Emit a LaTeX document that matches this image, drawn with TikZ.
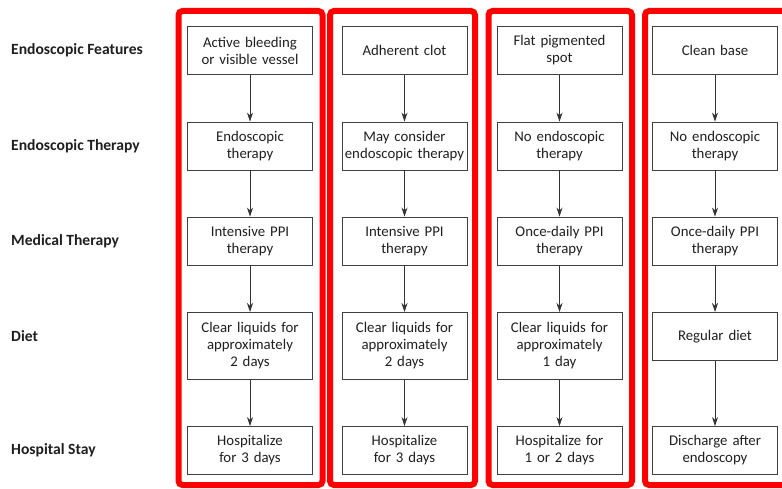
\documentclass[tikz,border=0pt]{standalone}
\usepackage{fontspec}
\setmainfont{Carlito}
\usetikzlibrary{arrows.meta}

\tikzset{
  stepbox/.style={draw=black!75, line width=0.9pt, text width=121pt, align=center,
    minimum width=125pt, minimum height=48pt, inner sep=0pt,
    font=\fontsize{14.8}{17}\selectfont, text=black!88},
  tallbox/.style={stepbox, minimum height=67pt},
  rowlabel/.style={anchor=west, inner sep=0pt, font=\fontsize{15.6}{18}\selectfont\bfseries, text=black!88},
  colframe/.style={draw=red, line width=6pt, rounded corners=4pt},
  flow/.style={-{Stealth[length=9pt,width=6pt]}, line width=0.8pt, draw=black!80}
}

\begin{document}
\begin{tikzpicture}[x=1pt, y=-1pt]
  \useasboundingbox (0,0) rectangle (782,489);

  % red frames round the four columns
  \draw [colframe] (178.5,11) rectangle (322.5,485);
  \draw [colframe] (330,11) rectangle (475,485);
  \draw [colframe] (488.5,11) rectangle (632,485);
  \draw [colframe] (645,11) rectangle (795,485);

  % row labels
  \node [rowlabel] (lfeat) at (11,50) {Endoscopic Features};
  \node [rowlabel] (lendo) at (11,146) {Endoscopic Therapy};
  \node [rowlabel] (lmed) at (11,241) {Medical Therapy};
  \node [rowlabel] (ldiet) at (11,336) {Diet};
  \node [rowlabel] (lstay) at (11,450) {Hospital Stay};

  % column 1
  \node [stepbox] (feat1) at (250,50.5) {Active bleeding\\or visible vessel};
  \node [stepbox] (endo1) at (250,146) {Endoscopic\\therapy};
  \node [stepbox] (med1) at (250,241) {Intensive PPI\\therapy};
  \node [tallbox, anchor=north] (diet1) at (250,312) {Clear liquids for\\approximately\\2 days};
  \node [stepbox] (stay1) at (250,450.5) {Hospitalize\\for 3 days};

  % column 2
  \node [stepbox] (feat2) at (404.5,50.5) {Adherent clot};
  \node [stepbox] (endo2) at (404.5,146) {May consider\\endoscopic therapy};
  \node [stepbox] (med2) at (404.5,241) {Intensive PPI\\therapy};
  \node [tallbox, anchor=north] (diet2) at (404.5,312) {Clear liquids for\\approximately\\2 days};
  \node [stepbox] (stay2) at (404.5,450.5) {Hospitalize\\for 3 days};

  % column 3
  \node [stepbox] (feat3) at (559.5,50.5) {Flat pigmented\\spot};
  \node [stepbox] (endo3) at (559.5,146) {No endoscopic\\therapy};
  \node [stepbox] (med3) at (559.5,241) {Once-daily PPI\\therapy};
  \node [tallbox, anchor=north] (diet3) at (559.5,312) {Clear liquids for\\approximately\\1 day};
  \node [stepbox] (stay3) at (559.5,450.5) {Hospitalize for\\1 or 2 days};

  % column 4
  \node [stepbox] (feat4) at (715,50.5) {Clean base};
  \node [stepbox] (endo4) at (715,146) {No endoscopic\\therapy};
  \node [stepbox] (med4) at (715,241) {Once-daily PPI\\therapy};
  \node [stepbox, anchor=north] (diet4) at (715,312) {Regular diet};
  \node [stepbox] (stay4) at (715,450.5) {Discharge after\\endoscopy};

  % arrows down each column
  \foreach \c in {1,...,4} {
    \draw [flow] (feat\c) -- (endo\c);
    \draw [flow] (endo\c) -- (med\c);
    \draw [flow] (med\c) -- (diet\c);
    \draw [flow] (diet\c) -- (stay\c);
  }
\end{tikzpicture}
\end{document}
